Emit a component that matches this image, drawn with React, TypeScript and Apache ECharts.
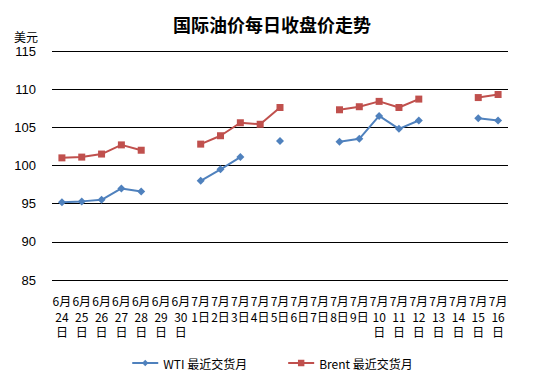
import React, { useEffect, useRef } from "react";
import * as echarts from "echarts";

const categories = [
  "6月\n24\n日", "6月\n25\n日", "6月\n26\n日", "6月\n27\n日", "6月\n28\n日", "6月\n29\n日", "6月\n30\n日",
  "7月\n1日", "7月\n2日", "7月\n3日", "7月\n4日", "7月\n5日", "7月\n6日", "7月\n7日", "7月\n8日", "7月\n9日",
  "7月\n10\n日", "7月\n11\n日", "7月\n12\n日", "7月\n13\n日", "7月\n14\n日", "7月\n15\n日", "7月\n16\n日",
];

const wti = [
  95.2, 95.3, 95.5, 97.0, 96.6, null, null,
  98.0, 99.5, 101.1, null, 103.2, null, null, 103.1, 103.5,
  106.5, 104.8, 105.9, null, null, 106.2, 105.9,
];

const brent = [
  101.0, 101.1, 101.5, 102.7, 102.0, null, null,
  102.8, 103.9, 105.6, 105.4, 107.6, null, null, 107.3, 107.7,
  108.4, 107.6, 108.7, null, null, 108.9, 109.3,
];

const yTicks = { min: 85, max: 115, interval: 5 };

export default function App() {
  const ref = useRef<HTMLDivElement>(null);
  useEffect(() => {
    if (!ref.current) return;
    const chart = echarts.init(ref.current, null, { renderer: "svg" });
    chart.setOption({
      animation: false,
      backgroundColor: "#ffffff",
      title: {
        text: "国际油价每日收盘价走势",
        left: "center",
        top: 10,
        textStyle: { fontSize: 18, fontWeight: "bold", color: "#000", fontFamily: "Noto Sans CJK SC" },
      },
      graphic: [
        {
          type: "text",
          left: 14,
          top: 30,
          style: { text: "美元", fontSize: 12, fill: "#000", fontFamily: "Noto Sans CJK SC" },
        },
      ],
      legend: {
        bottom: 10,
        left: "center",
        itemGap: 40,
        itemWidth: 26,
        itemHeight: 8,
        textStyle: { fontSize: 12, color: "#000", fontFamily: "Noto Sans CJK SC" },
        data: ["WTI 最近交货月", "Brent 最近交货月"],
      },
      grid: { left: 52, right: 36, top: 51, bottom: 104 },
      xAxis: {
        type: "category",
        data: categories,
        boundaryGap: true,
        axisLine: { show: false },
        axisTick: { show: false },
        axisLabel: {
          interval: 0,
          fontSize: 12,
          lineHeight: 15.5,
          color: "#000",
          margin: 13,
          fontFamily: "Noto Sans CJK SC",
        },
      },
      yAxis: {
        type: "value",
        min: yTicks.min,
        max: yTicks.max,
        interval: yTicks.interval,
        axisLine: { show: false },
        axisTick: { show: false },
        axisLabel: { fontSize: 13, color: "#000", margin: 16, fontFamily: "Liberation Sans" },
        splitLine: { lineStyle: { color: "#000", width: 1 } },
      },
      series: [
        {
          name: "WTI 最近交货月",
          type: "line",
          data: wti,
          connectNulls: false,
          symbol: "diamond",
          symbolSize: 8,
          itemStyle: { color: "#4F81BD" },
          lineStyle: { color: "#4F81BD", width: 2 },
        },
        {
          name: "Brent 最近交货月",
          type: "line",
          data: brent,
          connectNulls: false,
          symbol: "rect",
          symbolSize: 7,
          itemStyle: { color: "#C0504D" },
          lineStyle: { color: "#C0504D", width: 2 },
        },
      ],
    });
    return () => chart.dispose();
  }, []);
  return <div ref={ref} style={{ width: 544, height: 384, position: "absolute", left: 0, top: 0 }} />;
}
